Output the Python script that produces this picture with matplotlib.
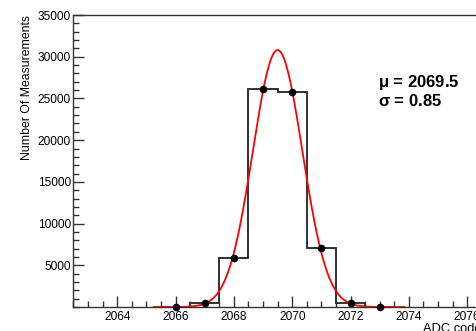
import numpy as np
import matplotlib
matplotlib.use("Agg")
import matplotlib.pyplot as plt
from matplotlib.ticker import MultipleLocator

plt.rcParams["font.family"] = ["Liberation Sans", "DejaVu Sans"]

# histogram of ADC codes (bin centres and counts)
adc_codes = [2066, 2067, 2068, 2069, 2070, 2071, 2072, 2073]
counts = [5, 480, 5910, 26100, 25750, 7100, 480, 5]

# gaussian fit result
mu = 2069.5
sigma = 0.85
amplitude = 30800
fit_range = (2065.25, 2073.85)

y_ticks = [5000, 10000, 15000, 20000, 25000, 30000, 35000]
x_ticks = [2064, 2066, 2068, 2070, 2072, 2074, 2076]

fig = plt.figure(figsize=(4.77, 3.31), dpi=100)
ax = fig.add_axes([0.154, 0.0725, 0.856, 0.882])

edges = np.append(np.array(adc_codes) - 0.5, adc_codes[-1] + 0.5)
ax.stairs(counts, edges, color="#222222", linewidth=1.3, baseline=0)

xs = np.linspace(fit_range[0], fit_range[1], 400)
ax.plot(xs, amplitude * np.exp(-0.5 * ((xs - mu) / sigma) ** 2),
        color="red", linewidth=1.3, zorder=3)

ax.plot(adc_codes, counts, "o", color="black", markersize=4.5, zorder=4,
        clip_on=False)

ax.set_xlim(2062.5, 2076.5)
ax.set_ylim(0, 35000)
ax.set_xticks(x_ticks)
ax.set_yticks(y_ticks)
ax.xaxis.set_minor_locator(MultipleLocator(0.5))
ax.yaxis.set_minor_locator(MultipleLocator(1000))
ax.tick_params(which="both", direction="in", labelsize=8.6, color="#333333",
               top=False, right=False)
ax.tick_params(which="major", length=8, width=1)
ax.tick_params(which="minor", length=4, width=1)
ax.tick_params(axis="x", pad=3)
ax.tick_params(axis="y", pad=2)
for s in ax.spines.values():
    s.set_color("#333333")
    s.set_linewidth(1.0)

ax.set_ylabel("Number Of Measurements", fontsize=8.8, loc="top", labelpad=3)
ax.set_xlabel("ADC code", fontsize=9.3, loc="right", labelpad=0)

ax.text(0.745, 0.77, r"$\mathregular{\mu}$ = 2069.5", transform=ax.transAxes,
        fontsize=12, fontweight="bold", va="center")
ax.text(0.745, 0.705, r"$\mathregular{\sigma}$ = 0.85", transform=ax.transAxes,
        fontsize=12, fontweight="bold", va="center")

fig.savefig("out.png", dpi=100)
